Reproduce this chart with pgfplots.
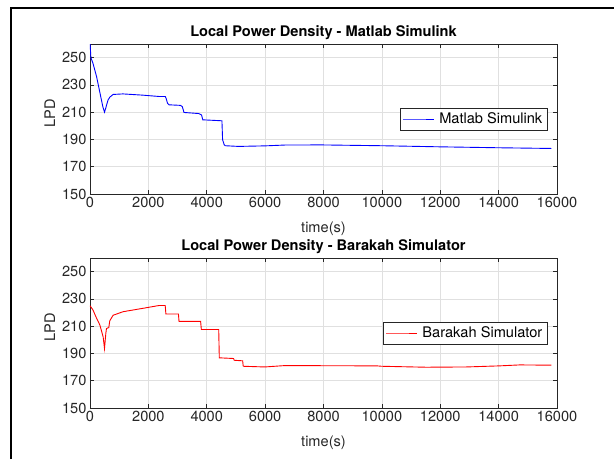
\documentclass[border=0pt]{standalone}
\usepackage{fontspec}
\setmainfont{TeX Gyre Heros}
\usepackage{pgfplots}
\pgfplotsset{compat=1.18}
\definecolor{axgray}{gray}{0.15}
\definecolor{gridgray}{gray}{0.88}
\newcommand{\mlfont}{\fontsize{14.6}{16}\selectfont}
\pgfplotsset{mlstyle/.style={
  scale only axis, width=467pt, height=150pt,
  xmin=0, xmax=16000, ymin=150, ymax=260,
  xtick={0,2000,...,16000}, ytick={150,170,...,250},
  grid=major, major grid style={gridgray, line width=0.6pt},
  tick align=inside, tick pos=both,
  axis line style={axgray, line width=0.7pt},
  major tick style={axgray, line width=0.7pt},
  major tick length=4pt,
  tick label style={font=\mlfont, text=axgray},
  /pgf/number format/assume math mode=true,
  scaled x ticks=false,
  xticklabel style={/pgf/number format/1000 sep={}},
  every axis x label/.style={at={(0.5,0)}, yshift=-35pt, anchor=center, font=\mlfont, text=axgray},
  ylabel style={font=\mlfont, text=axgray, xshift=6pt},
  every axis title/.style={font=\bfseries\mlfont, at={(0.5,1)}, anchor=center, yshift=11pt},
  xlabel={time(s)}, ylabel={LPD},
  legend style={at={(1,0.5)}, anchor=east, xshift=-10pt, draw=axgray, font=\mlfont, inner sep=2.5pt,
    /tikz/every odd column/.append style={column sep=3pt}},
  legend cell align=left,
  legend image code/.code={\draw[mark repeat=2,mark phase=2,#1] plot coordinates {(0pt,0pt) (15.5pt,0pt) (31pt,0pt)};},
  legend image post style={line width=0.8pt},
}}
\begin{document}
\begin{tikzpicture}
\useasboundingbox (0pt,0pt) rectangle (614pt,459pt);
\draw[line width=1.5pt] (11pt,0pt) -- (11pt,451pt) -- (614pt,451pt);
\begin{axis}[mlstyle, at={(90pt,265pt)}, anchor=south west,
  title={Local Power Density - Matlab Simulink}]
\addplot[blue, line width=0.9pt] coordinates {
(0,262) (30,250) (100,246) (226,236) (362,222) (440,214) (497,210) (540,213) (565,215) (620,219) (678,221) (791,223) (1130,223.4) (1800,222.5) (2373,221.5) (2580,221.5) (2610,220) (2655,216.6) (2712,215.4) (3100,215) (3164,214) (3220,209.8) (3729,209) (3820,208) (3865,204.4) (4520,203.7) (4543,189.8) (4600,186) (4633,185.4) (5085,184.9) (6000,185.3) (6667,185.9) (7910,186.0) (10000,185.4) (11977,184.6) (14035,183.9) (15806,183.4)
};
\addlegendentry{Matlab Simulink}
\end{axis}
\begin{axis}[mlstyle, at={(90pt,51pt)}, anchor=south west,
  title={Local Power Density - Barakah Simulator}]
\addplot[red, line width=0.9pt] coordinates {
(0,225) (100,222) (200,217) (339,210.8) (452,202) (497,193.6) (542,204.7) (565,208.3) (644,209) (678,214) (791,218) (1130,220.6) (1921,223.5) (2373,225.2) (2577,225.2) (2600,218.9) (3030,218.9) (3050,213.5) (3790,213.5) (3815,207.6) (4410,207.6) (4430,186.8) (4920,186.3) (4940,185) (5230,184.6) (5250,180.6) (5990,180.1) (6667,181.1) (9830,180.9) (10000,180.6) (11520,179.9) (12890,180.1) (14035,180.9) (14720,181.6) (15806,181.4)
};
\addlegendentry{Barakah Simulator}
\end{axis}
\end{tikzpicture}
\end{document}
